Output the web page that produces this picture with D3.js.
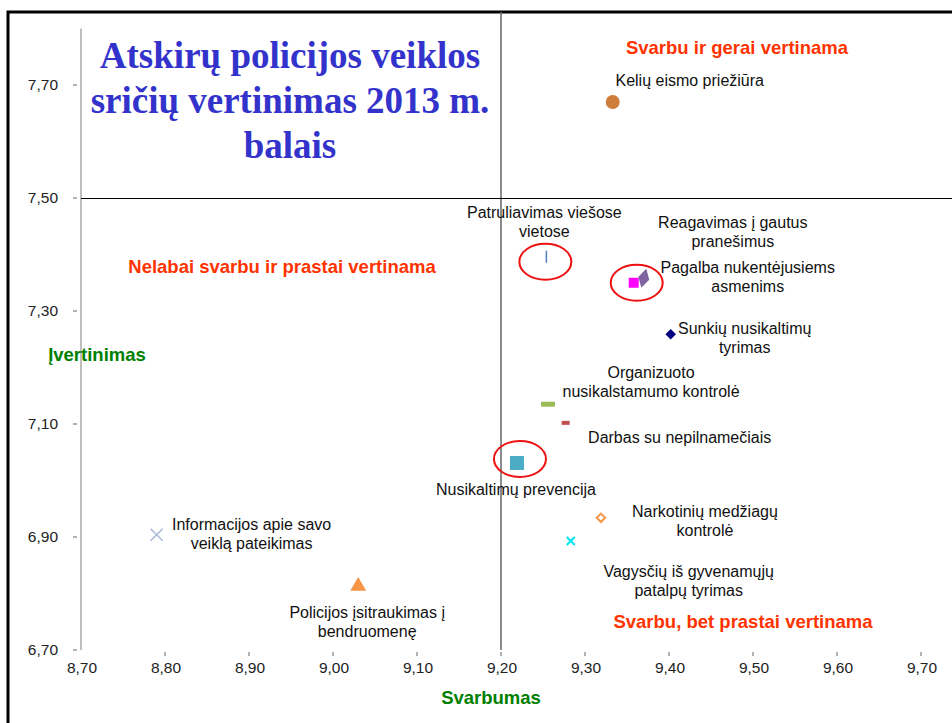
<!DOCTYPE html>
<html>
<head>
<meta charset="utf-8">
<script src="https://cdn.jsdelivr.net/npm/d3@7"></script>
<style>
  body { margin: 0; background: #fff; }
  svg { display: block; font-family: "Liberation Sans", Arial, sans-serif; }
</style>
</head>
<body>
<div id="chart"></div>
<script>
// Svarbumas (x) ir įvertinimas (y) kiekvienai sričiai
var areaNames = [
    ['Kelių eismo priežiūra'],
    ['Patruliavimas viešose', 'vietose'],
    ['Pagalba nukentėjusiems', 'asmenims'],
    ['Reagavimas į gautus', 'pranešimus'],
    ['Sunkių nusikaltimų', 'tyrimas'],
    ['Organizuoto', 'nusikalstamumo kontrolė'],
    ['Darbas su nepilnamečiais'],
    ['Nusikaltimų prevencija'],
    ['Narkotinių medžiagų', 'kontrolė'],
    ['Vagysčių iš gyvenamųjų', 'patalpų tyrimas'],
    ['Informacijos apie savo', 'veiklą pateikimas'],
    ['Policijos įsitraukimas į', 'bendruomenę']
];
var importance = [9.333, 9.254, 9.358, 9.370, 9.402, 9.256, 9.277, 9.219, 9.319, 9.283, 8.790, 9.030];
var rating     = [7.670, 7.396, 7.350, 7.358, 7.259, 7.135, 7.102, 7.031, 6.934, 6.893, 6.904, 6.813];
var markerTypes = ['circle', 'vbar', 'square', 'diamond', 'smalldiamond', 'dash', 'smalldash',
                   'bigsquare', 'ring', 'cross', 'bigcross', 'triangle'];
var markerColors = ['#cf7d3a', '#4f81bd', '#ff00ff', '#8064a2', '#000080', '#9bbb59', '#c0504d',
                    '#4bacc6', '#f79646', '#00e5ee', '#a9b8d8', '#f79646'];
// label offsets from the marker (dx, dy of first line baseline)
var labelOffsets = [[77, -16], [-2, -39], [114, -10], [89, -50], [74, 0], [103, -26], [114, 20],
                    [-1, 32], [104, -1], [118, 36], [95, -5], [9, 32]];

var xTicks = [8.7, 8.8, 8.9, 9.0, 9.1, 9.2, 9.3, 9.4, 9.5, 9.6, 9.7];
var yTicks = [6.7, 6.9, 7.1, 7.3, 7.5, 7.7];
var titleLines = ['Atskirų policijos veiklos', 'sričių vertinimas 2013 m.', 'balais'];
var highlighted = [1, 2, 7];

var width = 952, height = 723;
var svg = d3.select('#chart').append('svg')
    .attr('width', width)
    .attr('height', height);

var x = d3.scaleLinear().domain([8.7, 9.7]).range([81, 921]);
var y = d3.scaleLinear().domain([6.7, 7.7]).range([650, 85]);
var fmt = function(v) { return d3.format('.2f')(v).replace('.', ','); };

// frame
svg.append('rect')
    .attr('x', 8).attr('y', 12)
    .attr('width', 960).attr('height', 730)
    .attr('fill', 'none')
    .attr('stroke', '#000')
    .attr('stroke-width', 3);

// y axis
svg.append('line')
    .attr('x1', 81).attr('x2', 81)
    .attr('y1', y(7.8)).attr('y2', y(6.7))
    .attr('stroke', '#aaa').attr('stroke-width', 1.5);
svg.selectAll('.ytick').data(yTicks).enter().append('line')
    .attr('x1', 73).attr('x2', 77)
    .attr('y1', function(d) { return y(d); })
    .attr('y2', function(d) { return y(d); })
    .attr('stroke', '#666');
svg.selectAll('.ylab').data(yTicks).enter().append('text')
    .attr('x', 58)
    .attr('y', function(d) { return y(d) + 5; })
    .attr('text-anchor', 'end')
    .attr('font-size', 15.5)
    .attr('fill', '#222')
    .text(fmt);

// x axis (ticks only)
svg.selectAll('.xtick').data(xTicks.slice(1)).enter().append('line')
    .attr('x1', function(d) { return x(d); })
    .attr('x2', function(d) { return x(d); })
    .attr('y1', 652).attr('y2', 656)
    .attr('stroke', '#666');
svg.selectAll('.xlab').data(xTicks).enter().append('text')
    .attr('x', function(d) { return x(d) + 1; })
    .attr('y', 673)
    .attr('text-anchor', 'middle')
    .attr('font-size', 15.5)
    .attr('fill', '#222')
    .text(fmt);

// quadrant lines
svg.append('line')
    .attr('x1', x(9.2)).attr('x2', x(9.2))
    .attr('y1', 12).attr('y2', y(6.7))
    .attr('stroke', '#666').attr('stroke-width', 1.5);
svg.append('line')
    .attr('x1', 81).attr('x2', width)
    .attr('y1', Math.round(y(7.5)) + 0.5).attr('y2', Math.round(y(7.5)) + 0.5)
    .attr('stroke', '#000').attr('stroke-width', 1);

// title
svg.append('text')
    .attr('x', 290).attr('y', 68)
    .attr('text-anchor', 'middle')
    .attr('font-family', '"Liberation Serif", "Times New Roman", serif')
    .attr('font-weight', 'bold')
    .attr('font-size', 37)
    .attr('fill', '#3333cc')
    .selectAll('tspan').data(titleLines).enter().append('tspan')
        .attr('x', 290)
        .attr('dy', function(d, i) { return i === 0 ? 0 : 45; })
        .text(function(d) { return d; });

// quadrant captions
var captions = [
    { t: 'Svarbu ir gerai vertinama', x: 737, y: 54 },
    { t: 'Nelabai svarbu ir prastai vertinama', x: 282, y: 273 },
    { t: 'Svarbu, bet prastai vertinama', x: 743, y: 628 }
];
svg.selectAll('.cap').data(captions).enter().append('text')
    .attr('x', function(d) { return d.x; })
    .attr('y', function(d) { return d.y; })
    .attr('text-anchor', 'middle')
    .attr('font-weight', 'bold')
    .attr('font-size', 18.5)
    .attr('fill', '#ff3300')
    .text(function(d) { return d.t; });

// axis titles
svg.append('text')
    .attr('x', 97).attr('y', 361)
    .attr('text-anchor', 'middle')
    .attr('font-weight', 'bold').attr('font-size', 18.5)
    .attr('fill', '#008000')
    .text('Įvertinimas');
svg.append('text')
    .attr('x', 491).attr('y', 704)
    .attr('text-anchor', 'middle')
    .attr('font-weight', 'bold').attr('font-size', 18.5)
    .attr('fill', '#008000')
    .text('Svarbumas');

// markers
var pts = importance.map(function(v, i) {
    return { x: v, y: rating[i], type: markerTypes[i], color: markerColors[i], name: areaNames[i], off: labelOffsets[i] };
});

var markerG = svg.selectAll('.pt').data(pts).enter().append('g')
    .attr('transform', function(d) { return 'translate(' + x(d.x) + ',' + y(d.y) + ')'; });

markerG.each(function(d) {
    var g = d3.select(this);
    var sym = function(type, size) { return d3.symbol().type(type).size(size)(); };
    switch (d.type) {
        case 'circle':
            g.append('circle').attr('r', 7).attr('fill', d.color); break;
        case 'vbar':
            g.append('line').attr('y1', -6).attr('y2', 6).attr('stroke', d.color).attr('stroke-width', 1.5); break;
        case 'square':
            g.append('rect').attr('x', -5).attr('y', -5).attr('width', 10).attr('height', 10).attr('fill', d.color); break;
        case 'diamond':
            g.append('path').attr('d', sym(d3.symbolDiamond, 110)).attr('transform', 'rotate(15)').attr('fill', d.color); break;
        case 'smalldiamond':
            g.append('path').attr('d', sym(d3.symbolDiamond2, 70)).attr('fill', d.color); break;
        case 'dash':
            g.append('rect').attr('x', -7).attr('y', -2.5).attr('width', 14).attr('height', 5).attr('fill', d.color); break;
        case 'smalldash':
            g.append('rect').attr('x', -4).attr('y', -2).attr('width', 8).attr('height', 4).attr('fill', d.color); break;
        case 'bigsquare':
            g.append('rect').attr('x', -7).attr('y', -7).attr('width', 14).attr('height', 14).attr('fill', d.color); break;
        case 'ring':
            g.append('path').attr('d', sym(d3.symbolDiamond2, 45)).attr('fill', '#fff').attr('stroke', d.color).attr('stroke-width', 2); break;
        case 'cross':
            g.append('path').attr('d', 'M-4,-4L4,4M-4,4L4,-4').attr('stroke', d.color).attr('stroke-width', 2); break;
        case 'bigcross':
            g.append('path').attr('d', 'M-6,-6L6,6M-6,6L6,-6').attr('stroke', d.color).attr('stroke-width', 1.5); break;
        case 'triangle':
            g.append('path').attr('d', sym(d3.symbolTriangle, 110)).attr('fill', d.color); break;
    }
});

// labels
markerG.append('text')
    .attr('text-anchor', 'middle')
    .attr('font-size', 16)
    .attr('fill', '#111')
    .selectAll('tspan').data(function(d) {
        return d.name.map(function(line) { return { line: line, off: d.off }; });
    }).enter().append('tspan')
        .attr('x', function(d) { return d.off[0]; })
        .attr('y', function(d, i) { return d.off[1] + i * 19; })
        .text(function(d) { return d.line; });

// red highlight ellipses
var ellipseOffsets = [[-1, 5], [3, 0], [3, -4]];
svg.selectAll('.hl').data(highlighted).enter().append('ellipse')
    .attr('cx', function(d, i) { return x(importance[d]) + ellipseOffsets[i][0]; })
    .attr('cy', function(d, i) { return y(rating[d]) + ellipseOffsets[i][1]; })
    .attr('rx', 26).attr('ry', 18)
    .attr('fill', 'none')
    .attr('stroke', '#ee1111')
    .attr('stroke-width', 2);
</script>
</body>
</html>
